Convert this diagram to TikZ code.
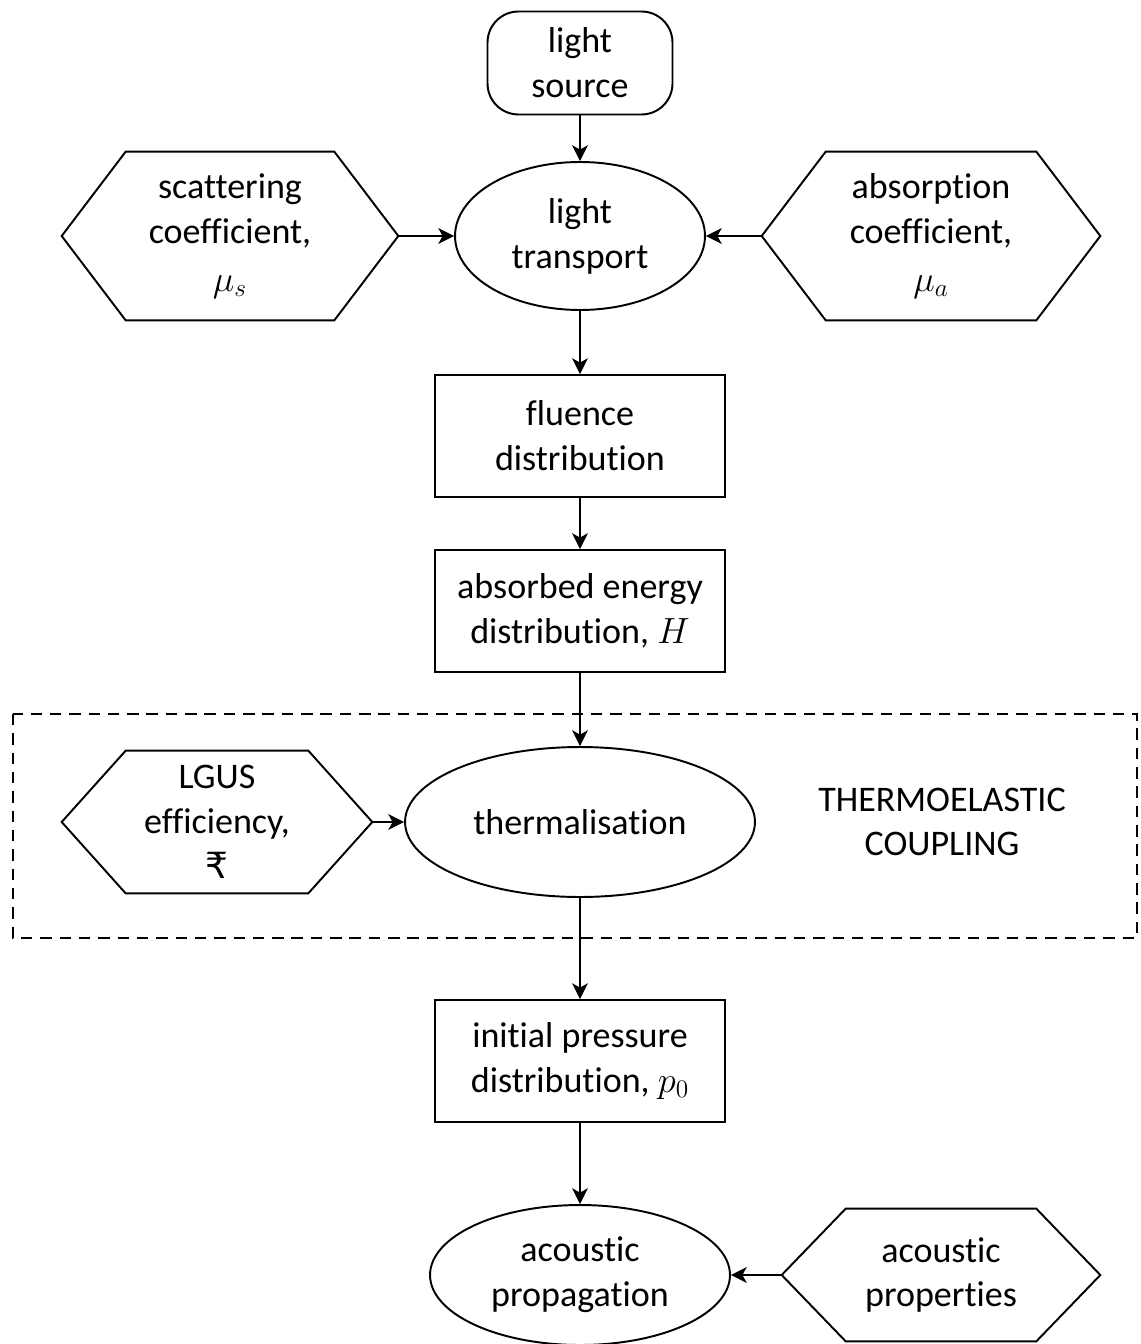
\documentclass[tikz,border=0pt]{standalone}
\usepackage{fontspec}
\setmainfont[Ligatures=NoCommon]{Carlito}
\newfontfamily\rupeefont{DejaVu Sans}
\usetikzlibrary{arrows.meta,shapes.geometric}

\tikzset{
  every node/.style={align=center, font=\fontsize{20.5}{25.5}\selectfont, inner sep=0pt},
  line/.style={line width=1.1pt},
  flow/.style={line, -{Stealth[length=9pt, width=9pt, inset=2.5pt]}},
  startbox/.style={line, draw, rounded corners=0.62cm, minimum width=3.7cm, minimum height=2.06cm},
  procbox/.style={line, draw, rectangle, minimum width=5.8cm, minimum height=2.44cm},
  process/.style={line, draw, ellipse},
  param/.style={rectangle}
}

\begin{document}
\begin{tikzpicture}[x=0.02cm, y=-0.02cm]
  \useasboundingbox (0,0) rectangle (1140,1344);

  % thermoelastic coupling zone
  \draw[line, dash pattern=on 6.5pt off 4.5pt] (13,714) rectangle (1137,938);
  \node (coupling) at (942,822) {THERMOELASTIC\\COUPLING};

  % main chain
  \node[startbox] (source) at (580,63) {light\\source};
  \node[process, minimum width=5cm, minimum height=2.96cm] (transport) at (580,236) {light\\transport};
  \node[procbox] (fluence) at (580,436) {fluence\\distribution};
  \node[procbox] (energy) at (580,611) {absorbed energy\\distribution, $H$};
  \node[process, minimum width=7cm, minimum height=3cm] (thermal) at (580,822) {thermalisation};
  \node[procbox] (pressure) at (580,1061) {initial pressure\\distribution, $p_0$};
  \node[process, minimum width=6cm, minimum height=2.8cm] (acoustic) at (580,1275) {acoustic\\propagation};

  % parameters
  \node[param, minimum width=6.72cm, minimum height=3.36cm] (scat) at (230,236) {scattering\\coefficient,\\[2pt]$\mu_s$};
  \node[param, minimum width=6.76cm, minimum height=3.36cm] (absorb) at (931,236) {absorption\\coefficient,\\[2pt]$\mu_a$};
  \node[param, minimum width=6.2cm, minimum height=2.84cm] (lgus) at (217,822) {LGUS\\efficiency,\\{\rupeefont ₹}};
  \node[param, minimum width=6.36cm, minimum height=2.64cm] (acprops) at (941,1275) {acoustic\\properties};

  \foreach \n in {scat, absorb, lgus, acprops}
    \draw[line] (\n.west) -- ([xshift=1.28cm]\n.north west) -- ([xshift=-1.28cm]\n.north east)
      -- (\n.east) -- ([xshift=-1.28cm]\n.south east) -- ([xshift=1.28cm]\n.south west) -- cycle;

  % connectors
  \draw[flow] (source) -- (transport);
  \draw[flow] (scat.east) -- (transport.west);
  \draw[flow] (absorb.west) -- (transport.east);
  \draw[flow] (transport) -- (fluence);
  \draw[flow] (fluence) -- (energy);
  \draw[flow] (energy) -- (thermal);
  \draw[flow] (lgus.east) -- (thermal.west);
  \draw[flow] (thermal) -- (pressure);
  \draw[flow] (pressure) -- (acoustic);
  \draw[flow] (acprops.west) -- (acoustic.east);
\end{tikzpicture}
\end{document}
